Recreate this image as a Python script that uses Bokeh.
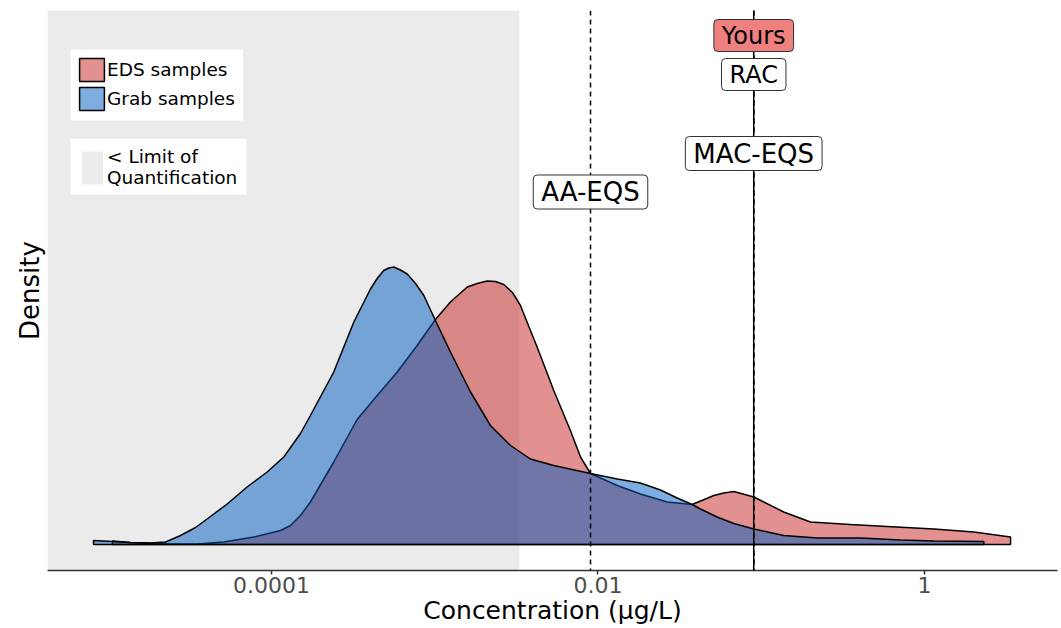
import numpy as np
from bokeh.plotting import figure
from bokeh.models import (Span, Label, Legend, LegendItem, FixedTicker, Range1d, BoxAnnotation)
from bokeh.embed import file_html
from bokeh.resources import INLINE

# ---------------- data ----------------
# kernel density of log10 concentration
grab_log10 = [-5.091, -4.975, -4.865, -4.742, -4.650, -4.558, -4.466, -4.395, -4.272, -4.150,
              -4.027, -3.925, -3.823, -3.762, -3.619, -3.496, -3.394, -3.353, -3.313, -3.282,
              -3.251, -3.210, -3.169, -3.118, -3.067, -2.996, -2.904, -2.781, -2.659, -2.536,
              -2.414, -2.271, -2.046, -1.882, -1.740, -1.617, -1.515, -1.423, -1.372, -1.270,
              -1.168, -1.045, -0.862, -0.657, -0.392, -0.146, 0.058, 0.364]
grab_density = [0.008, 0.006, 0.004, 0.003, 0.005, 0.018, 0.034, 0.051, 0.081, 0.115,
                0.145, 0.175, 0.222, 0.258, 0.345, 0.445, 0.511, 0.532, 0.548, 0.553,
                0.555, 0.549, 0.541, 0.522, 0.498, 0.448, 0.385, 0.305, 0.238, 0.198,
                0.171, 0.158, 0.142, 0.131, 0.123, 0.109, 0.093, 0.080, 0.071, 0.055,
                0.042, 0.031, 0.018, 0.013, 0.013, 0.009, 0.007, 0.006]

eds_log10 = [-4.975, -4.865, -4.762, -4.619, -4.456, -4.293, -4.109, -3.945, -3.884, -3.823,
             -3.762, -3.619, -3.476, -3.353, -3.230, -3.108, -2.996, -2.904, -2.801, -2.740,
             -2.679, -2.628, -2.577, -2.524, -2.475, -2.426, -2.373, -2.271, -2.169, -2.107,
             -2.046, -1.882, -1.740, -1.576, -1.423, -1.290, -1.229, -1.168, -1.045, -0.862,
             -0.698, -0.453, -0.228, 0.058, 0.303, 0.528]
eds_density = [0.007, 0.004, 0.003, 0.001, 0.001, 0.005, 0.015, 0.028, 0.038, 0.058,
               0.085, 0.165, 0.250, 0.298, 0.345, 0.398, 0.450, 0.485, 0.515, 0.522,
               0.527, 0.526, 0.520, 0.504, 0.478, 0.438, 0.395, 0.308, 0.228, 0.175,
               0.142, 0.118, 0.101, 0.085, 0.080, 0.098, 0.103, 0.106, 0.095, 0.065,
               0.045, 0.040, 0.036, 0.031, 0.025, 0.015]

loq = 0.0033           # limit of quantification (µg/L)
aa_eqs = 0.009
mac_eqs = 0.09
rac = 0.09
yours = 0.09

tick_values = [1e-4, 1e-2, 1]
tick_labels = ["0.0001", "0.01", "1"]

series_names = ["EDS samples", "Grab samples"]
series_colors = ["#C72121", "#005BBF"]

# ---------------- figure ----------------
x_lo, x_hi = 10 ** -5.373, 10 ** 0.8156
y_lo, y_hi = -0.052, 1.068

p = figure(width=1061, height=628, x_axis_type="log",
           x_range=Range1d(x_lo, x_hi), y_range=Range1d(y_lo, y_hi),
           output_backend="svg", toolbar_location=None,
           min_border_left=47, min_border_right=4, min_border_top=10, min_border_bottom=58)
p.outline_line_color = None
p.grid.visible = False
p.background_fill_color = "white"
p.border_fill_color = "white"

FONT = "DejaVu Sans"

# LOQ shaded region
r_loq = p.quad(left=x_lo, right=loq, bottom=y_lo, top=y_hi,
               fill_color="#EBEBEB", line_color=None)


def closed(logs, dens):
    xs = [10 ** logs[0]] + [10 ** v for v in logs] + [10 ** logs[-1]]
    ys = [0.0] + list(dens) + [0.0]
    return xs, ys


ex, ey = closed(eds_log10, eds_density)
gx, gy = closed(grab_log10, grab_density)
r_eds = p.patch(ex, ey, fill_color=series_colors[0], fill_alpha=0.5,
                line_color="black", line_width=1.5)
r_grab = p.patch(gx, gy, fill_color=series_colors[1], fill_alpha=0.5,
                 line_color="black", line_width=1.5)

# vertical reference lines
for loc in [aa_eqs, mac_eqs, rac]:
    p.add_layout(Span(location=loc, dimension="height", line_color="black",
                      line_width=1.5, line_dash="5 4"))
p.add_layout(Span(location=yours, dimension="height", line_color="black", line_width=1.5))


# labels
def tag(x, y, text, size, fill="white"):
    p.add_layout(Label(x=x, y=y, text=text, text_align="center", text_baseline="middle",
                       text_font=FONT, text_font_size=size, text_color="black",
                       background_fill_color=fill, background_fill_alpha=1,
                       border_line_color="#333333", border_line_width=1,
                       padding=(8, 8, 2, 2), border_radius=4))


tag(yours, 1.018, "Yours", "24px", fill="#F08080")
tag(rac, 0.940, "RAC", "24px")
tag(mac_eqs, 0.782, "MAC-EQS", "26px")
tag(aa_eqs, 0.705, "AA-EQS", "26px")

# axes
xa = p.xaxis[0]
xa.ticker = FixedTicker(ticks=tick_values)
xa.major_label_overrides = {v: l for v, l in zip(tick_values, tick_labels)}
xa.axis_line_color = "#333333"
xa.axis_line_width = 1.5
xa.major_tick_line_color = "#333333"
xa.major_tick_line_width = 1.5
xa.major_tick_in = 0
xa.major_tick_out = 4
xa.minor_tick_line_color = None
xa.major_label_text_font = FONT
xa.major_label_text_font_size = "22px"
xa.major_label_text_color = "#4D4D4D"
xa.major_label_standoff = 2
xa.axis_label = "Concentration (µg/L)"
xa.axis_label_text_font = FONT
xa.axis_label_text_font_size = "25px"
xa.axis_label_text_font_style = "normal"
xa.axis_label_text_color = "black"
xa.axis_label_standoff = 0

ya = p.yaxis[0]
ya.ticker = FixedTicker(ticks=[])
ya.axis_line_color = None
ya.major_tick_line_color = None
ya.minor_tick_line_color = None
ya.major_tick_in = 0
ya.major_tick_out = 0
ya.major_label_standoff = 0
ya.axis_label = "Density"
ya.axis_label_text_font = FONT
ya.axis_label_text_font_size = "26px"
ya.axis_label_text_font_style = "normal"
ya.axis_label_text_color = "black"
ya.axis_label_standoff = 3

# white legend panels
p.add_layout(BoxAnnotation(left=10 ** -5.232, right=10 ** -4.174, bottom=0.848, top=0.990,
                           fill_color="white", fill_alpha=1, line_color=None))
p.add_layout(BoxAnnotation(left=10 ** -5.232, right=10 ** -4.154, bottom=0.6994, top=0.8114,
                           fill_color="white", fill_alpha=1, line_color=None))

# legends (area icons are inset by 10% of the glyph box)
leg1 = Legend(items=[LegendItem(label=series_names[0], renderers=[r_eds]),
                     LegendItem(label=series_names[1], renderers=[r_grab])],
              location=(29, 457), glyph_width=31, glyph_height=29, spacing=0,
              padding=0, label_standoff=0, label_text_font=FONT,
              label_text_font_size="18.5px", label_text_color="black",
              border_line_color=None,
              background_fill_color="white", background_fill_alpha=1, margin=0)
leg2 = Legend(items=[LegendItem(label="< Limit of\nQuantification", renderers=[r_loq])],
              location=(32, 382), glyph_width=26, glyph_height=41,
              padding=0, label_standoff=2, label_text_font=FONT,
              label_text_font_size="18.5px", label_text_color="black",
              border_line_color=None,
              background_fill_color="white", background_fill_alpha=1, margin=0)
p.add_layout(leg1)
p.add_layout(leg2)

open("out.html", "w").write(file_html(p, INLINE))
